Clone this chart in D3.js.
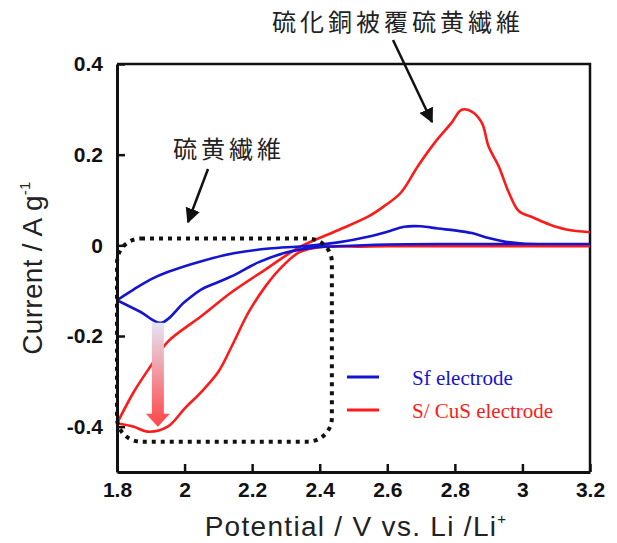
<!DOCTYPE html>
<html>
<head>
<meta charset="utf-8">
<script src="https://cdn.jsdelivr.net/npm/d3@7"></script>
<style>
  body { margin: 0; background: #fff; }
  svg { display: block; }
  .tick text { font-family: "Liberation Sans", Arial, sans-serif; font-weight: bold; font-size: 21px; fill: #111; }
</style>
</head>
<body>
<div id="chart"></div>
<script>
// tick labels
var xTicks = [1.8, 2.0, 2.2, 2.4, 2.6, 2.8, 3.0, 3.2]
var yTicks = [-0.4, -0.2, 0, 0.2, 0.4]

// Sf electrode (blue): anodic sweep then cathodic sweep
var sfV = [1.80, 1.85, 1.90, 1.95, 2.05, 2.15, 2.25, 2.35, 2.45, 2.55, 2.60, 2.65, 2.70, 2.75, 2.80, 2.85, 2.90, 2.95, 3.00, 3.10, 3.20,
           3.20, 2.80, 2.60, 2.45, 2.38, 2.30, 2.22, 2.14, 2.10, 2.05, 2.00, 1.93, 1.87, 1.80]
var sfI = [-0.121, -0.097, -0.075, -0.059, -0.035, -0.017, -0.007, -0.002, 0.006, 0.020, 0.030, 0.041, 0.042, 0.037, 0.033, 0.027, 0.016, 0.008, 0.004, 0.003, 0.003,
           0.003, 0.003, 0.002, -0.002, -0.005, -0.016, -0.037, -0.068, -0.081, -0.097, -0.125, -0.171, -0.147, -0.121]

// S/CuS electrode (red): cathodic sweep from 3.2 then anodic sweep
var cusV = [3.20, 2.80, 2.60, 2.52, 2.40, 2.34, 2.29, 2.24, 2.19, 2.14, 2.10, 2.05, 2.00, 1.95, 1.89, 1.85, 1.80,
            1.80, 1.85, 1.90, 1.95, 2.05, 2.14, 2.24, 2.34, 2.44, 2.54, 2.59, 2.64, 2.69, 2.74, 2.79, 2.82, 2.85, 2.88, 2.90, 2.93, 2.96, 2.99, 3.03, 3.08, 3.13, 3.20]
var cusI = [-0.002, -0.002, -0.002, -0.003, -0.004, -0.015, -0.046, -0.090, -0.147, -0.222, -0.279, -0.323, -0.360, -0.400, -0.411, -0.400, -0.393,
            -0.393, -0.323, -0.266, -0.213, -0.156, -0.103, -0.053, -0.004, 0.029, 0.062, 0.086, 0.116, 0.174, 0.226, 0.270, 0.299, 0.295, 0.270, 0.218, 0.174, 0.116, 0.075, 0.062, 0.046, 0.035, 0.029]

var legendNames = ['Sf electrode', 'S/ CuS electrode']
var legendColors = ['#1414d2', '#ff1a1a']

var width = 617, height = 543
var margin = {left: 117, right: 27, top: 64, bottom: 71}

var x = d3.scaleLinear().domain([1.8, 3.2]).range([margin.left, width - margin.right])
var y = d3.scaleLinear().domain([-0.5, 0.4]).range([height - margin.bottom, margin.top])

var svg = d3.select('#chart').append('svg')
    .attr('width', width)
    .attr('height', height)

var defs = svg.append('defs')
var grad = defs.append('linearGradient')
    .attr('id', 'arrowGrad')
    .attr('x1', 0).attr('y1', 0).attr('x2', 0).attr('y2', 1)
grad.append('stop').attr('offset', '0%').attr('stop-color', '#e4e4f6')
grad.append('stop').attr('offset', '100%').attr('stop-color', '#ff4545')

defs.append('marker')
    .attr('id', 'head')
    .attr('viewBox', '0 0 10 10')
    .attr('refX', 9).attr('refY', 5)
    .attr('markerWidth', 6).attr('markerHeight', 6)
    .attr('orient', 'auto')
    .append('path')
    .attr('d', 'M0,0 L10,5 L0,10 z')
    .attr('fill', '#111')

// frame top/right
svg.append('path')
    .attr('d', `M${x(1.8)},${y(0.4)} H${x(3.2)} V${y(-0.5)}`)
    .attr('fill', 'none').attr('stroke', '#111').attr('stroke-width', 2.5)

var line = d3.line()
    .x(d => x(d[0]))
    .y(d => y(d[1]))
    .curve(d3.curveCatmullRom.alpha(0.5))

var clip = defs.append('clipPath').attr('id', 'plotclip')
clip.append('rect')
    .attr('x', x(1.8)).attr('y', y(0.4))
    .attr('width', x(3.2) - x(1.8)).attr('height', y(-0.5) - y(0.4))

var curves = svg.append('g').attr('clip-path', 'url(#plotclip)')
curves.append('path')
    .attr('d', line(d3.zip(cusV, cusI)))
    .attr('fill', 'none').attr('stroke', legendColors[1]).attr('stroke-width', 2.6)
    .attr('stroke-linejoin', 'round')
curves.append('path')
    .attr('d', line(d3.zip(sfV, sfI)))
    .attr('fill', 'none').attr('stroke', legendColors[0]).attr('stroke-width', 2.6)
    .attr('stroke-linejoin', 'round')

// gradient arrow (growth of reduction peak)
var ax = x(1.921), aTop = y(-0.171), aBot = y(-0.400)
svg.append('path')
    .attr('d', `M${ax-6},${aTop} H${ax+6} V${aBot-13} H${ax+12} L${ax},${aBot} L${ax-12},${aBot-13} H${ax-6} Z`)
    .attr('fill', 'url(#arrowGrad)')

// dotted rounded box
svg.append('rect')
    .attr('x', x(1.8)).attr('y', y(0.015))
    .attr('width', x(2.436) - x(1.8)).attr('height', y(-0.433) - y(0.015))
    .attr('rx', 24).attr('ry', 24)
    .attr('fill', 'none').attr('stroke', '#111').attr('stroke-width', 4)
    .attr('stroke-dasharray', '4,5')

// axes
var fmt = d => String(+d.toFixed(1))
svg.append('g')
    .attr('transform', `translate(0,${y(-0.5)})`)
    .call(d3.axisBottom(x).tickValues(xTicks).tickSize(-8).tickSizeOuter(0).tickPadding(10).tickFormat(fmt))
    .call(g => g.select('.domain').attr('stroke', '#111').attr('stroke-width', 3))
    .call(g => g.selectAll('.tick line').attr('stroke', '#111').attr('stroke-width', 2.5))

svg.append('g')
    .attr('transform', `translate(${x(1.8)},0)`)
    .call(d3.axisLeft(y).tickValues(yTicks).tickSize(-8).tickSizeOuter(0).tickPadding(14).tickFormat(fmt))
    .call(g => g.select('.domain').attr('stroke', '#111').attr('stroke-width', 3))
    .call(g => g.selectAll('.tick line').attr('stroke', '#111').attr('stroke-width', 2.5))

// axis titles
svg.append('text')
    .attr('x', 356).attr('y', 536)
    .attr('text-anchor', 'middle')
    .style('font-family', '"Liberation Sans", Arial, sans-serif')
    .style('font-size', '28px').style('letter-spacing', '1.3px').style('fill', '#222')
    .text('Potential / V vs. Li /Li')
    .append('tspan').attr('dy', -12).style('font-size', '15px').text('+')

svg.append('text')
    .attr('transform', 'translate(42,268) rotate(-90)')
    .attr('text-anchor', 'middle')
    .style('font-family', '"Liberation Sans", Arial, sans-serif')
    .style('font-size', '28px').style('letter-spacing', '0.3px').style('fill', '#222')
    .text('Current / A g')
    .append('tspan').attr('dy', -12).style('font-size', '15px').text('-1')

// legend
var legend = svg.append('g')
legendNames.forEach((name, i) => {
    var ly = 377 + i * 33
    legend.append('line')
        .attr('x1', 347).attr('x2', 379).attr('y1', ly).attr('y2', ly)
        .attr('stroke', legendColors[i]).attr('stroke-width', 3)
    legend.append('text')
        .attr('x', 412).attr('y', ly + 8)
        .style('font-family', '"Liberation Serif", "Times New Roman", serif')
        .style('font-size', '21px')
        .style('fill', legendColors[i])
        .text(name)
})

// annotations
var jp = '"Noto Sans CJK JP", "Noto Sans CJK SC", sans-serif'
svg.append('text')
    .attr('x', 173).attr('y', 158)
    .style('font-family', jp).style('font-size', '24px').style('letter-spacing', '4px').style('fill', '#222')
    .text('硫黄繊維')
svg.append('line')
    .attr('x1', 208).attr('y1', 169).attr('x2', 188).attr('y2', 222)
    .attr('stroke', '#111').attr('stroke-width', 2.5)
    .attr('marker-end', 'url(#head)')

svg.append('text')
    .attr('x', 272).attr('y', 31)
    .style('font-family', jp).style('font-size', '24px').style('letter-spacing', '4px').style('fill', '#222')
    .text('硫化銅被覆硫黄繊維')
svg.append('line')
    .attr('x1', 393).attr('y1', 40).attr('x2', 432).attr('y2', 122)
    .attr('stroke', '#111').attr('stroke-width', 2.5)
    .attr('marker-end', 'url(#head)')
</script>
</body>
</html>
